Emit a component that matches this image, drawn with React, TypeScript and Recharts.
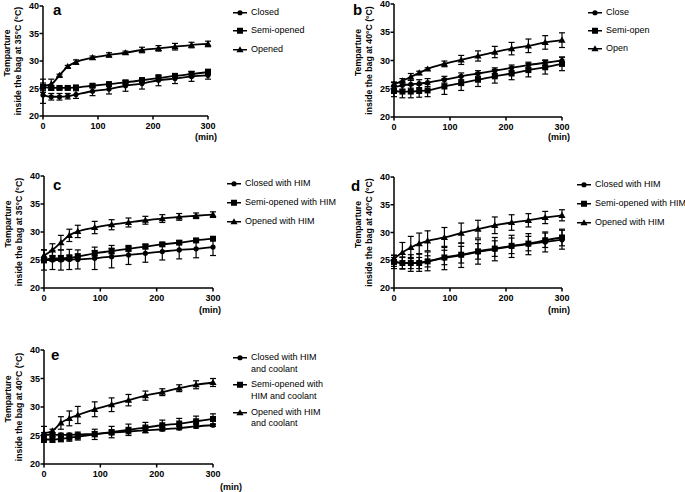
import React from 'react'
import { LineChart, Line, XAxis, YAxis, ErrorBar, Legend } from 'recharts'

const minutes = [0, 15, 30, 45, 60, 90, 120, 150, 180, 210, 240, 270, 300]
const xTicks = [0, 100, 200, 300]
const yTicks = [20, 25, 30, 35, 40]

// a: 35°C
const aClosed = [23.8, 23.5, 23.5, 23.6, 23.9, 24.5, 24.9, 25.5, 25.9, 26.5, 26.8, 27.2, 27.4]
const aClosedErr = [1.5, 0.6, 0.6, 0.5, 0.7, 0.8, 0.9, 1.0, 1.0, 1.0, 0.9, 0.9, 0.7]
const aSemi = [25.3, 25.1, 25.1, 25.1, 25.2, 25.5, 25.8, 26.1, 26.5, 26.9, 27.3, 27.6, 28.0]
const aSemiErr = [0.7, 0.4, 0.3, 0.3, 0.3, 0.3, 0.3, 0.3, 0.4, 0.4, 0.4, 0.5, 0.5]
const aOpened = [25.5, 25.8, 27.4, 29.0, 29.8, 30.6, 31.1, 31.5, 32.0, 32.3, 32.6, 32.9, 33.1]
const aOpenedErr = [1.2, 0.9, 0.2, 0.2, 0.4, 0.3, 0.4, 0.3, 0.5, 0.5, 0.6, 0.5, 0.5]

// b: 40°C
const bClose = [25.3, 25.6, 25.8, 25.9, 26.1, 26.6, 27.2, 27.7, 28.2, 28.7, 29.2, 29.6, 30.0]
const bCloseErr = [0.8, 0.7, 0.7, 0.7, 0.7, 0.6, 0.6, 0.5, 0.5, 0.5, 0.5, 0.5, 0.6]
const bSemi = [24.6, 24.5, 24.5, 24.6, 24.7, 25.4, 26.0, 26.6, 27.2, 27.7, 28.3, 28.8, 29.4]
const bSemiErr = [1.0, 1.1, 1.1, 1.1, 1.1, 1.4, 1.3, 1.2, 1.2, 1.1, 1.2, 1.2, 1.2]
const bOpen = [25.8, 26.4, 27.1, 27.8, 28.5, 29.4, 30.1, 30.8, 31.5, 32.1, 32.6, 33.2, 33.6]
const bOpenErr = [0.4, 0.4, 0.6, 0.3, 0.2, 0.5, 0.8, 0.9, 1.0, 1.1, 1.2, 1.2, 1.3]

// c: 35°C with HIM
const cClosed = [25.0, 25.0, 25.0, 25.1, 25.1, 25.3, 25.6, 25.9, 26.2, 26.5, 26.8, 27.0, 27.3]
const cClosedErr = [1.8, 1.7, 1.8, 1.8, 1.7, 2.0, 2.0, 1.7, 1.6, 1.5, 1.6, 1.6, 1.5]
const cSemi = [25.0, 25.3, 25.3, 25.4, 25.6, 26.2, 26.6, 27.0, 27.4, 27.8, 28.1, 28.5, 28.8]
const cSemiErr = [0.5, 0.5, 0.5, 0.5, 0.5, 0.5, 0.5, 0.4, 0.4, 0.3, 0.3, 0.3, 0.3]
const cOpened = [25.8, 26.8, 28.1, 29.4, 30.1, 30.8, 31.3, 31.7, 32.1, 32.4, 32.7, 32.9, 33.1]
const cOpenedErr = [1.0, 1.1, 1.3, 1.1, 1.1, 1.1, 0.9, 0.8, 0.7, 0.7, 0.6, 0.5, 0.5]

// d: 40°C with HIM
const dClosed = [24.7, 24.5, 24.5, 24.6, 24.8, 25.4, 25.9, 26.5, 27.0, 27.5, 27.9, 28.3, 28.7]
const dClosedErr = [1.2, 1.1, 1.5, 1.6, 1.7, 2.1, 2.2, 2.2, 2.1, 2.0, 1.9, 1.8, 1.7]
const dSemi = [24.7, 24.5, 24.5, 24.5, 24.8, 25.5, 26.0, 26.6, 27.1, 27.6, 28.0, 28.6, 29.1]
const dSemiErr = [0.8, 1.0, 1.0, 1.0, 1.0, 1.3, 1.5, 1.4, 1.4, 1.4, 1.3, 1.3, 1.5]
const dOpened = [25.3, 26.4, 27.3, 28.0, 28.5, 29.1, 29.9, 30.6, 31.3, 31.8, 32.2, 32.7, 33.1]
const dOpenedErr = [0.6, 1.8, 2.0, 1.9, 1.8, 1.8, 1.8, 1.6, 1.5, 1.4, 1.2, 1.1, 1.0]

// e: 40°C with HIM and coolant
const eClosed = [25.1, 25.1, 25.1, 25.1, 25.2, 25.3, 25.5, 25.7, 25.9, 26.1, 26.3, 26.6, 26.8]
const eClosedErr = [0.4, 0.3, 0.3, 0.3, 0.4, 0.4, 0.4, 0.4, 0.4, 0.3, 0.3, 0.3, 0.2]
const eSemi = [24.3, 24.3, 24.4, 24.6, 24.8, 25.2, 25.6, 26.0, 26.4, 26.8, 27.1, 27.5, 27.9]
const eSemiErr = [0.5, 0.5, 0.5, 0.6, 0.6, 0.9, 1.0, 1.0, 0.9, 0.9, 0.9, 0.9, 0.9]
const eOpened = [25.4, 25.8, 27.2, 28.0, 28.6, 29.6, 30.4, 31.2, 32.0, 32.6, 33.3, 33.9, 34.3]
const eOpenedErr = [1.2, 0.3, 1.1, 1.3, 1.5, 1.3, 1.2, 1.0, 0.8, 0.6, 0.6, 0.7, 0.7]

const aNames = ['Closed', 'Semi-opened', 'Opened']
const bNames = ['Close', 'Semi-open', 'Open']
const himNames = ['Closed with HIM', 'Semi-opened with HIM', 'Opened with HIM']
const eNames = ['Closed with HIM\nand coolant', 'Semi-opened with\nHIM and coolant', 'Opened with HIM\nand coolant']

const FONT = '"Liberation Sans", Arial, Helvetica, sans-serif'

type Shape = 'circle' | 'square' | 'triangle'
const SHAPES: Shape[] = ['circle', 'square', 'triangle']

function Marker({ shape, cx, cy }: { shape: Shape; cx: number; cy: number }) {
  if (shape === 'circle') return <circle cx={cx} cy={cy} r={2.6} fill="#000" />
  if (shape === 'square') return <rect x={cx - 3} y={cy - 3} width={6} height={6} fill="#000" />
  return (
    <polygon
      points={`${cx},${cy - 3.6} ${cx + 3.6},${cy + 2.6} ${cx - 3.6},${cy + 2.6}`}
      fill="#000"
    />
  )
}

interface PanelProps {
  letter: string
  heat: string
  names: string[]
  series: number[][]
  errors: number[][]
  ox: number
  oy: number
  w: number
  px0: number
  px1: number
  py0: number
  py1: number
  letterAt: [number, number]
  legendAt: [number, number]
  rowGap: number
  minDx: number
  minDy: number
}

function Panel(p: PanelProps) {
  const YW = 30
  const XH = 20
  const h = p.py1 - p.oy + 32
  const rows = minutes.map((t, i) => ({
    t,
    s0: p.series[0][i], e0: p.errors[0][i],
    s1: p.series[1][i], e1: p.errors[1][i],
    s2: p.series[2][i], e2: p.errors[2][i],
  }))
  const tick = { fill: '#000', fontSize: 9, fontWeight: 700, fontFamily: FONT }
  const axisStroke = { stroke: '#000', strokeWidth: 1.5 }

  const yTitle = (props: any) => {
    const vb = props.viewBox
    const cy = vb.y + vb.height / 2
    const x1 = vb.x + vb.width - 33
    const x2 = vb.x + vb.width - 22
    const style = { fontFamily: FONT, fontSize: 8.7, fontWeight: 700, fill: '#000' }
    return (
      <g>
        <text x={x1} y={cy - 8} transform={`rotate(-90 ${x1} ${cy - 8})`} textAnchor="middle" style={style}>
          Temparture
        </text>
        <text x={x2} y={cy} transform={`rotate(-90 ${x2} ${cy})`} textAnchor="middle" style={style}>
          {`inside the bag at ${p.heat} (°C)`}
        </text>
      </g>
    )
  }

  const minLabel = (props: any) => {
    const vb = props.viewBox
    return (
      <text
        x={vb.x + vb.width + p.minDx}
        y={vb.y + p.minDy}
        textAnchor="middle"
        style={{ fontFamily: FONT, fontSize: 9, fontWeight: 700, fill: '#000' }}
      >
        (min)
      </text>
    )
  }

  const legendContent = () => (
    <div style={{ fontFamily: FONT, fontSize: 9, color: '#000' }}>
      {p.names.map((n, k) => (
        <div
          key={n}
          style={{ display: 'flex', alignItems: 'flex-start', marginBottom: p.rowGap, lineHeight: '11.5px' }}
        >
          <svg width={14} height={11.5} style={{ display: 'block', flex: 'none', marginRight: 4 }}>
            <line x1={0} y1={5.75} x2={14} y2={5.75} stroke="#000" strokeWidth={1.5} />
            <Marker shape={SHAPES[k]} cx={7} cy={5.75} />
          </svg>
          <span style={{ whiteSpace: 'pre' }}>{n}</span>
        </div>
      ))}
    </div>
  )

  const dotFor = (shape: Shape, k: number) => (props: any) => (
    <Marker key={`d${k}-${props.index}`} shape={shape} cx={props.cx} cy={props.cy} />
  )

  return (
    <div style={{ position: 'absolute', left: p.ox, top: p.oy, width: p.w, height: h }}>
      <LineChart
        width={p.w}
        height={h}
        data={rows}
        margin={{
          top: p.py0 - p.oy,
          left: p.px0 - p.ox - YW,
          right: p.w - (p.px1 - p.ox),
          bottom: h - (p.py1 - p.oy) - XH,
        }}
      >
        <XAxis
          dataKey="t"
          type="number"
          domain={[0, 300]}
          ticks={xTicks}
          interval={0}
          height={XH}
          tick={tick}
          tickSize={3.5}
          tickMargin={3}
          axisLine={axisStroke}
          tickLine={axisStroke}
          label={{ content: minLabel }}
        />
        <YAxis
          type="number"
          domain={[20, 40]}
          ticks={yTicks}
          interval={0}
          width={YW}
          tick={tick}
          tickSize={3.5}
          tickMargin={0.5}
          axisLine={axisStroke}
          tickLine={axisStroke}
          label={{ content: yTitle }}
        />
        <Legend
          layout="vertical"
          align="center"
          verticalAlign="middle"
          width={150}
          content={legendContent}
          wrapperStyle={{ left: p.legendAt[0] - p.ox, top: p.legendAt[1] - p.oy, width: 150 }}
        />
        {[0, 1, 2].map((k) => (
          <Line
            key={k}
            type="monotone"
            dataKey={`s${k}`}
            name={p.names[k]}
            stroke="#000"
            strokeWidth={1.8}
            dot={dotFor(SHAPES[k], k)}
            activeDot={false}
            isAnimationActive={false}
          >
            <ErrorBar dataKey={`e${k}`} width={3} stroke="#000" strokeWidth={1.2} direction="y" isAnimationActive={false} />
          </Line>
        ))}
      </LineChart>
      <div
        style={{
          position: 'absolute',
          left: p.letterAt[0] - p.ox,
          top: p.letterAt[1] - p.oy - 12.7,
          fontFamily: FONT,
          fontSize: 15,
          fontWeight: 700,
          lineHeight: '15px',
        }}
      >
        {p.letter}
      </div>
    </div>
  )
}

export default function App() {
  return (
    <div
      style={{
        position: 'absolute',
        left: 0,
        top: 0,
        width: 685,
        height: 492,
        overflow: 'hidden',
        background: '#fff',
      }}
    >
      <Panel
        letter="a" heat="35°C" names={aNames}
        series={[aClosed, aSemi, aOpened]} errors={[aClosedErr, aSemiErr, aOpenedErr]}
        ox={0} oy={2} w={340} px0={43} px1={208} py0={6} py1={116}
        letterAt={[53, 15]} legendAt={[233, 7]} rowGap={6.8} minDx={-2} minDy={24}
      />
      <Panel
        letter="b" heat="40°C" names={bNames}
        series={[bClose, bSemi, bOpen]} errors={[bCloseErr, bSemiErr, bOpenErr]}
        ox={340} oy={0} w={345} px0={394} px1={562} py0={4} py1={117}
        letterAt={[353, 15]} legendAt={[588, 6.5]} rowGap={6.8} minDx={-3} minDy={23}
      />
      <Panel
        letter="c" heat="35°C" names={himNames}
        series={[cClosed, cSemi, cOpened]} errors={[cClosedErr, cSemiErr, cOpenedErr]}
        ox={0} oy={172} w={340} px0={44} px1={213} py0={176} py1={288}
        letterAt={[53, 189.5]} legendAt={[227, 178.3]} rowGap={7.3} minDx={-3} minDy={25}
      />
      <Panel
        letter="d" heat="40°C" names={himNames}
        series={[dClosed, dSemi, dOpened]} errors={[dClosedErr, dSemiErr, dOpenedErr]}
        ox={340} oy={173} w={345} px0={394} px1={562} py0={177} py1={288}
        letterAt={[351, 191]} legendAt={[577, 179.3]} rowGap={7.3} minDx={-3} minDy={25}
      />
      <Panel
        letter="e" heat="40°C" names={eNames}
        series={[eClosed, eSemi, eOpened]} errors={[eClosedErr, eSemiErr, eOpenedErr]}
        ox={0} oy={346} w={340} px0={44} px1={213} py0={350} py1={464}
        letterAt={[51, 359.5]} legendAt={[233, 352]} rowGap={4.3} minDx={18} minDy={26}
      />
    </div>
  )
}
